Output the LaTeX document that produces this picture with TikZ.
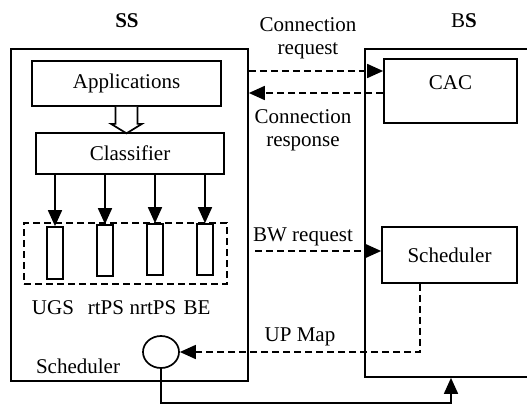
\documentclass[tikz,border=0pt]{standalone}
\usepackage{fontspec}
\setmainfont{Liberation Serif}
\usetikzlibrary{arrows.meta,shapes.geometric}
\begin{document}
\begin{tikzpicture}[x=1pt,y=-1pt,
  lw/.style={line width=1.7pt},
  box/.style={draw,line width=1.7pt,inner sep=0pt,font=\fontsize{21}{23}\selectfont},
  lbl/.style={inner sep=0pt,font=\fontsize{21}{23}\selectfont,align=center},
  dsh/.style={line width=1.7pt,dash pattern=on 7pt off 4pt},
  tip/.style={-{Triangle[length=16pt,width=14pt]}}
]
\useasboundingbox (0,0) rectangle (527,404);
\clip (0,0) rectangle (527,404);
% outer boxes
\node[box,minimum width=237pt,minimum height=332pt] (ss) at (129.5,215) {};
\node[box,minimum width=180pt,minimum height=328pt] (bs) at (455,213) {};
\node[lbl] (sslbl) at (127,21) {\textbf{SS}};
\node[lbl] (bslbl) at (464,21) {B\textbf{S}};
% SS inner
\node[box,minimum width=189pt,minimum height=45pt] (apps) at (126.5,83.5) {Applications};
\node[box,minimum width=188pt,minimum height=41pt] (cls) at (130,153.5) {Classifier};
\draw[lw,fill=white] (apps.south) ++(-11,0) -- ++(0,17) -- ++(-4.5,0) -- ++(15.5,9.5) -- ++(15.5,-9.5) -- ++(-4.5,0) -- ++(0,-17);
\node[draw,dsh,minimum width=203pt,minimum height=61pt] (dq) at (125.5,253.5) {};
\node[box,minimum width=16pt,minimum height=52pt] (q1) at (55,253) {};
\node[box,minimum width=16pt,minimum height=51pt] (q2) at (105,250.5) {};
\node[box,minimum width=16pt,minimum height=51pt] (q3) at (155,249.5) {};
\node[box,minimum width=16pt,minimum height=51pt] (q4) at (205,249.5) {};
\foreach \q in {q1,q2,q3,q4}{
  \draw[lw,tip] (\q.north |- cls.south) -- (\q.north);
}
\node[lbl] (l1) at (53,308) {UGS};
\node[lbl] (l2) at (106,308) {rtPS};
\node[lbl] (l3) at (153,308) {nrtPS};
\node[lbl] (l4) at (197,308) {BE};
\node[lbl] (schl) at (78,366) {Scheduler};
\node[draw,lw,ellipse,inner sep=0pt,minimum width=36pt,minimum height=32pt] (sc) at (161,352) {};
% BS inner
\node[box,minimum width=133pt,minimum height=64pt] (cac) at (450.5,91) {};
\node[lbl] (cact) at (450.5,83) {CAC};
\node[box,minimum width=135pt,minimum height=56pt] (schb) at (449.5,255) {Scheduler};
% messages
\draw[dsh,tip] (ss.east |- 0,71) -- (cac.west |- 0,71);
\draw[dsh,tip] (cac.west |- 0,93) -- (ss.east |- 0,93);
\node[lbl] (creq) at (308,38.5) {Connection\\request};
\node[lbl] (cres) at (303,130) {Connection\\response};
\coordinate (bw) at (255,251);
\draw[dsh,tip] (bw) -- (schb.west |- bw);
\node[lbl] (bwl) at (303,237) {BW request};
\draw[dsh,tip] (schb.south -| 420,0) |- (sc.east);
\node[lbl] (upl) at (300,337) {UP Map};
\draw[lw,tip] (sc.south) -- ++(0,34) -| (bs.south -| 451,0);
\end{tikzpicture}
\end{document}
